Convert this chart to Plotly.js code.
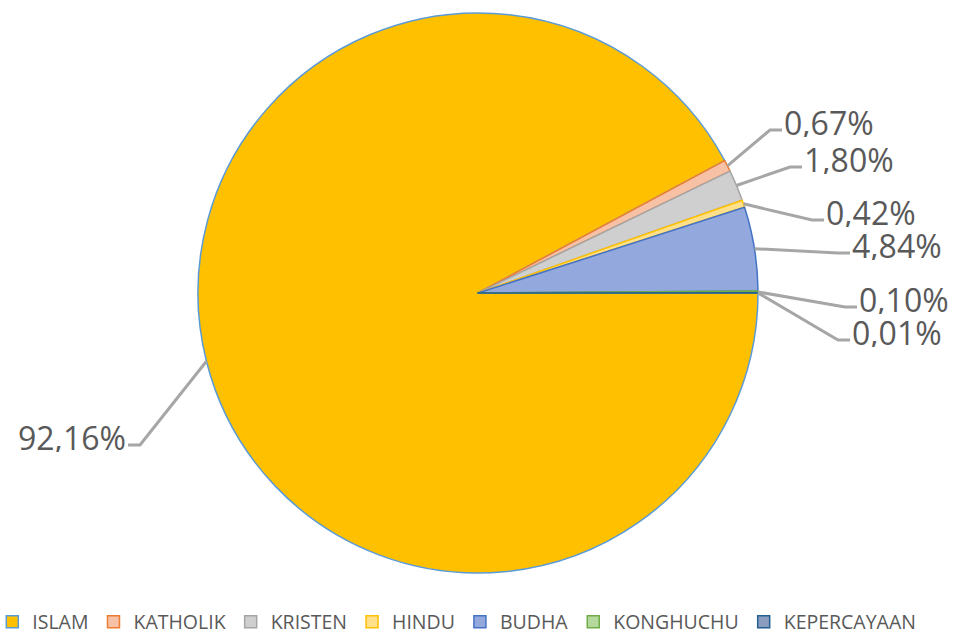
<!DOCTYPE html>
<html>
<head>
<meta charset="utf-8">
<script src="https://cdn.plot.ly/plotly-3.0.1.min.js"></script>
<style>
  html, body { margin: 0; padding: 0; background: #fff; }
  #chart { width: 963px; height: 634px; }
</style>
</head>
<body>
<div id="chart"></div>
<script>
// data
var agama = ["ISLAM", "KATHOLIK", "KRISTEN", "HINDU", "BUDHA", "KONGHUCHU", "KEPERCAYAAN"];
var persen = [92.16, 0.67, 1.80, 0.42, 4.84, 0.10, 0.01];

// style
var fillColors = ["#FFC000", "#F7C1A6", "#CFCFCF", "#FFE08A", "#93A9DE", "#B5D89C", "#8A9DBF"];
var lineColors = ["#5B9BD5", "#ED7D31", "#A5A5A5", "#FFC000", "#4472C4", "#70AD47", "#255E91"];

var W = 963, H = 634;
var cx = 478, cy = 293, R = 280;
function px(x) { return x / W; }
function py(y) { return 1 - y / H; }

// label elbows (pixels): [elbowX, elbowY, side]
var elbows = [
  [140, 445, -1],
  [770, 130, 1],
  [790, 167, 1],
  [812, 220, 1],
  [838, 253, 1],
  [845, 307, 1],
  [838, 340, 1]
];

var total = persen.reduce(function (a, b) { return a + b; }, 0);
var shapes = [], annotations = [];
var cum = 0;
persen.forEach(function (v, i) {
  var mid = (cum + v / 2) / total * 2 * Math.PI; // clockwise from 3 o'clock
  cum += v;
  var ex = cx + R * Math.cos(mid), ey = cy + R * Math.sin(mid);
  var e = elbows[i];
  var tx = e[0] + 12 * e[2];
  shapes.push({
    type: "path", xref: "paper", yref: "paper",
    path: "M" + px(ex) + "," + py(ey) + " L" + px(e[0]) + "," + py(e[1]) + " L" + px(tx) + "," + py(e[1]),
    line: {color: "#A6A6A6", width: 3}
  });
  annotations.push({
    xref: "paper", yref: "paper",
    x: px(tx + 1 * e[2]), y: py(e[1] - 8),
    xanchor: e[2] > 0 ? "left" : "right", yanchor: "middle",
    text: v.toFixed(2).replace(".", ",") + "%",
    showarrow: false, borderpad: 0, height: 30,
    font: {family: "Open Sans", size: 32, color: "#595959"}
  });
});

var trace = {
  type: "pie",
  labels: agama,
  values: persen,
  sort: false,
  direction: "clockwise",
  rotation: 90,
  textinfo: "none",
  hoverinfo: "label+percent",
  marker: {colors: fillColors, line: {color: lineColors, width: 1.5}},
  domain: {x: [px(cx - R), px(cx + R)], y: [py(cy + R), py(cy - R)]}
};

var layout = {
  width: W, height: H,
  margin: {l: 0, r: 0, t: 0, b: 0, autoexpand: false},
  paper_bgcolor: "#fff",
  showlegend: true,
  legend: {
    orientation: "h", x: -0.008, y: -0.012, xanchor: "left", yanchor: "bottom",
    font: {family: "Open Sans", size: 19.5, color: "#595959"},
    itemwidth: 30
  },
  shapes: shapes,
  annotations: annotations
};

Plotly.newPlot("chart", [trace], layout, {displayModeBar: false, staticPlot: true});
</script>
</body>
</html>
